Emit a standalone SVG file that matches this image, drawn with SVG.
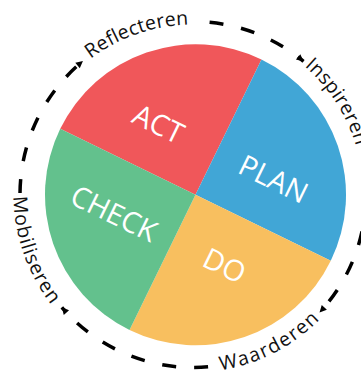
<svg xmlns="http://www.w3.org/2000/svg" width="361" height="371" viewBox="0 0 361 371">
<style>
.slice-label{font-family:"Open Sans","Noto Sans","DejaVu Sans",sans-serif;font-size:29px;fill:#ffffff;text-anchor:middle}
.ring-label{font-family:"Open Sans","Noto Sans","DejaVu Sans",sans-serif;font-size:19.5px;fill:#111111}
.ring{fill:none;stroke:#000000;stroke-width:3.5;stroke-dasharray:14 18;marker-end:url(#arrow)}
</style>
<defs>
<marker id="arrow" markerUnits="userSpaceOnUse" markerWidth="10" markerHeight="10" viewBox="-8 -5 10 10" refX="0" refY="0" orient="auto">
<path d="M0,0 L-7,-3.5 L-7,3.5 Z" fill="#000000"/>
</marker>
<path id="pRefl" d="M90.69,58.73 A170,170 0 0 1 278,47.28"/>
<path id="pInsp" d="M304.53,66.2 A170,170 0 0 1 340.22,279.5"/>
<path id="pMob" d="M13.51,196.69 A179.5,179.5 0 0 0 103.25,349.96"/>
<path id="pWaar" d="M220.85,370.3 A178,178 0 0 0 360.27,255.38"/>
</defs>
<rect width="361" height="371" fill="#ffffff"/>
<g id="act">
<path d="M195.5,194.8 L60.23,128.82 A150.5,150.5 0 0 1 261.48,59.53 Z" fill="#F0575A"/>
<text class="slice-label" transform="translate(158.5,124) rotate(26)" y="10.3">ACT</text>
</g>
<g id="plan">
<path d="M195.5,194.8 L261.48,59.53 A150.5,150.5 0 0 1 330.77,260.78 Z" fill="#41A6D6"/>
<text class="slice-label" transform="translate(273.5,179) rotate(26)" y="10.3">PLAN</text>
</g>
<g id="do">
<path d="M195.5,194.8 L330.77,260.78 A150.5,150.5 0 0 1 129.52,330.07 Z" fill="#F8BF5F"/>
<text class="slice-label" transform="translate(224.5,265.5) rotate(26)" y="10.3">DO</text>
</g>
<g id="check">
<path d="M195.5,194.8 L129.52,330.07 A150.5,150.5 0 0 1 60.23,128.82 Z" fill="#63C18D"/>
<text class="slice-label" transform="translate(114,213.5) rotate(26)" y="10.3">CHECK</text>
</g>
<g id="connectors">
<path class="ring" d="M20.01,192.99 A173,173 0 0 1 82.95,61.01"/>
<path class="ring" d="M209.58,22.3 A173,173 0 0 1 303.52,61.4"/>
<path class="ring" d="M365.92,199.63 A173,173 0 0 1 319.53,312.49"/>
<path class="ring" d="M208.08,366.84 A173,173 0 0 1 61.84,307.31"/>
</g>
<g id="reflecteren"><text class="ring-label" letter-spacing="0.15"><textPath href="#pRefl">Reflecteren</textPath></text></g>
<g id="inspireren"><text class="ring-label" letter-spacing="0.3"><textPath href="#pInsp">Inspireren</textPath></text></g>
<g id="mobiliseren"><text class="ring-label" letter-spacing="0.9"><textPath href="#pMob">Mobiliseren</textPath></text></g>
<g id="waarderen"><text class="ring-label" letter-spacing="1.4"><textPath href="#pWaar">Waarderen</textPath></text></g>
</svg>
